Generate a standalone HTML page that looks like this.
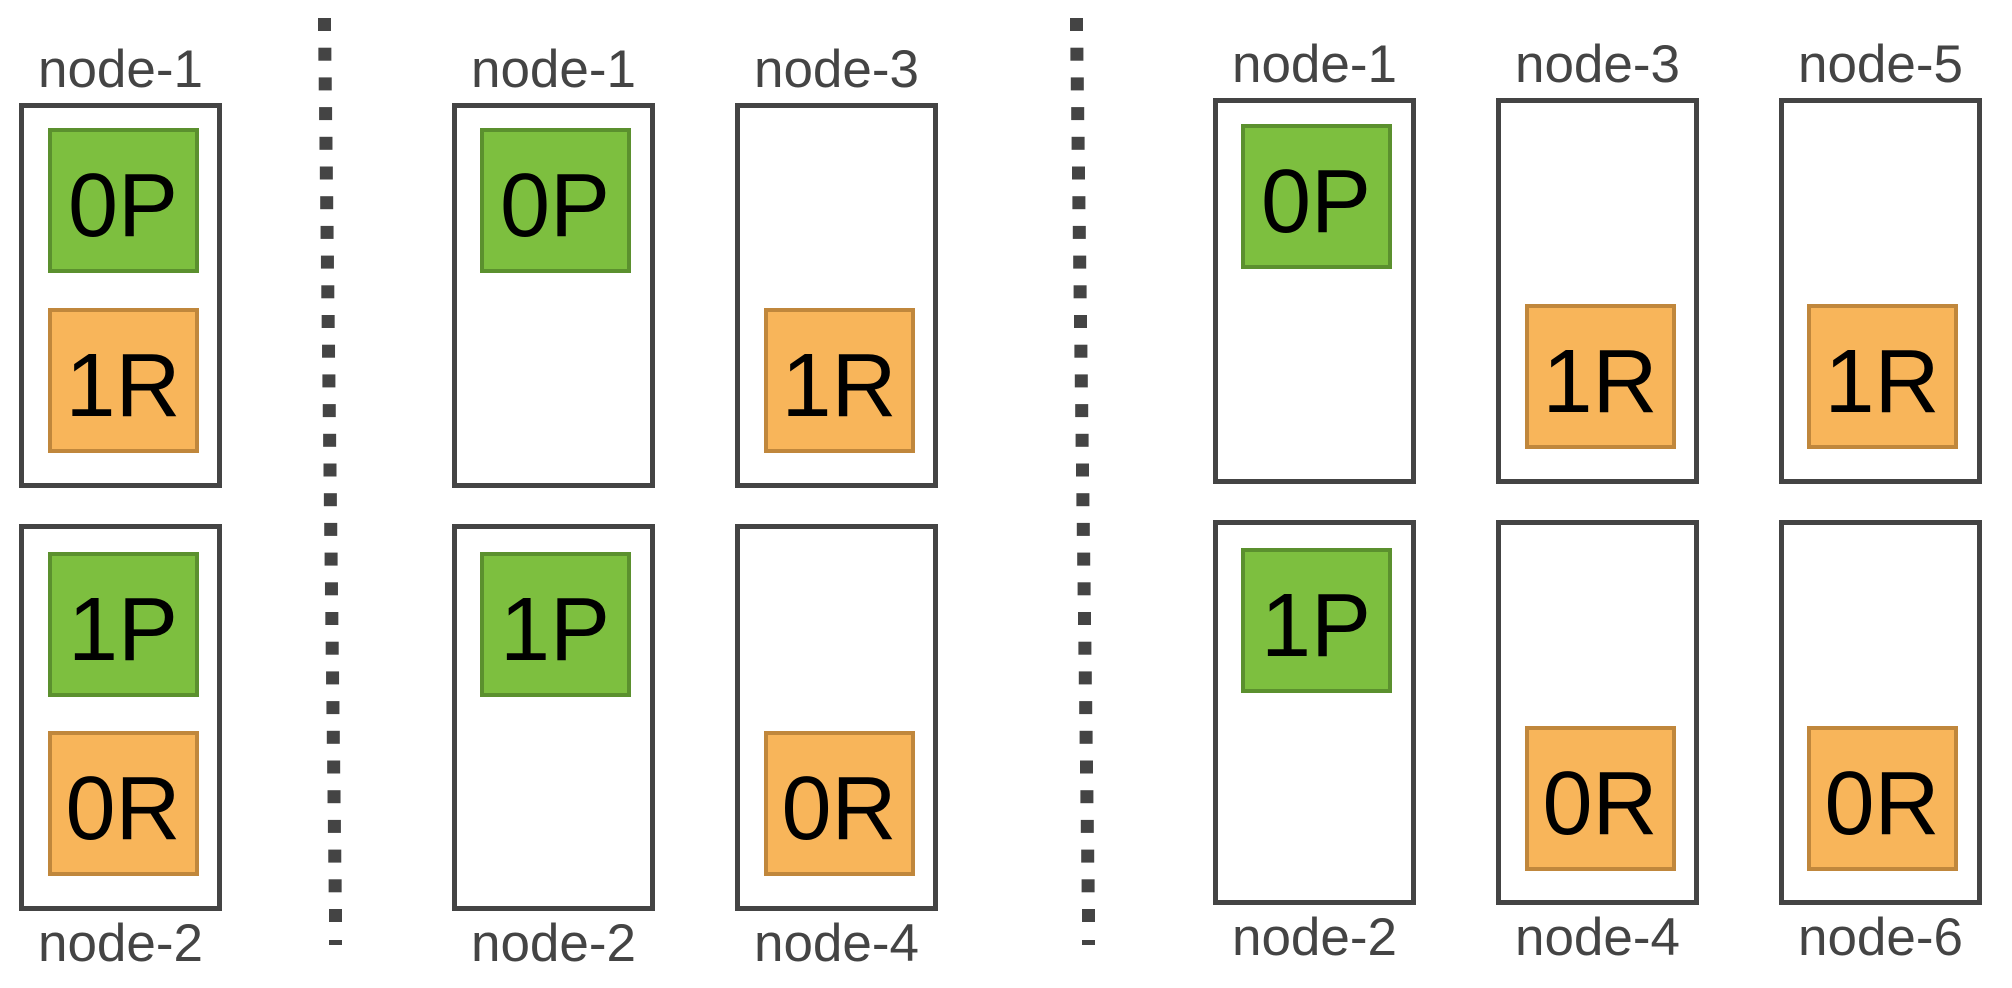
<!DOCTYPE html>
<html><head><meta charset="utf-8"><style>
html,body{margin:0;padding:0;background:#fff;width:2012px;height:988px;overflow:hidden}
svg{display:block}
text{font-family:"Liberation Sans",sans-serif}
</style></head><body>
<svg width="2012" height="988" viewBox="0 0 2012 988">
<g fill="#444" id="sep1"></g>
<g fill="#444" id="sep2"></g>
<g id="nodes"></g>
</svg>
<script>
const NS='http://www.w3.org/2000/svg';
function mk(tag,attrs,parent){const e=document.createElementNS(NS,tag);for(const k in attrs)e.setAttribute(k,attrs[k]);parent.appendChild(e);return e;}
function sep(g,x0,x1){const top=18,period=29.7;for(let i=0;i<31;i++){const y=top+i*period;const x=x0+(x1-x0)*i/30;const r=mk('rect',{x:x,y:y,width:13,height:13},g);

}
mk('rect',{x:x1,y:940,width:13,height:5},g);}
sep(document.getElementById('sep1'),318,329);
sep(document.getElementById('sep2'),1070,1082);
const nodes=[
 ['node-1',19,203,103,385,'top'],['node-2',19,203,524,387,'bottom'],
 ['node-1',452,203,103,385,'top'],['node-2',452,203,524,387,'bottom'],
 ['node-3',735,203,103,385,'top'],['node-4',735,203,524,387,'bottom'],
 ['node-1',1213,203,98,386,'top'],['node-2',1213,203,520,385,'bottom'],
 ['node-3',1496,203,98,386,'top'],['node-4',1496,203,520,385,'bottom'],
 ['node-5',1779,203,98,386,'top'],['node-6',1779,203,520,385,'bottom']];
const shards=[
 ['0P',48,128],['1R',48,308],['1P',48,552],['0R',48,731],
 ['0P',480,128],['1P',480,552],['1R',764,308],['0R',764,731],
 ['0P',1241,124],['1P',1241,548],['1R',1525,304],['0R',1525,726],['1R',1807,304],['0R',1807,726]];
const root=document.getElementById('nodes');
nodes.forEach(n=>{
 const g=mk('g',{},root);
 
 
 mk('rect',{x:n[1]+2.5,y:n[3]+2.5,width:n[2]-5,height:n[4]-5,fill:'#fff',stroke:'#444','stroke-width':5},g);
 const ty=n[5]==='top'?n[3]-16:n[3]+n[4]+50;
 const t=mk('text',{x:n[1]+n[2]/2,y:ty,'text-anchor':'middle','font-size':53,fill:'#444'},g);
 
 
 t.textContent=n[0];
});
shards.forEach(s=>{
 const p=s[0][1]==='P';
 const g=mk('g',{},root);
 
 
 mk('rect',{x:s[1]+2,y:s[2]+2,width:147,height:141,fill:p?'#7dbf3f':'#f8b55a',stroke:p?'#5b902e':'#c0873c','stroke-width':4},g);
 const t=mk('text',{x:s[1]+75,y:s[2]+108,'text-anchor':'middle','font-size':90,fill:'#000'},g);
 t.textContent=s[0];
});
</script>
</body></html>
